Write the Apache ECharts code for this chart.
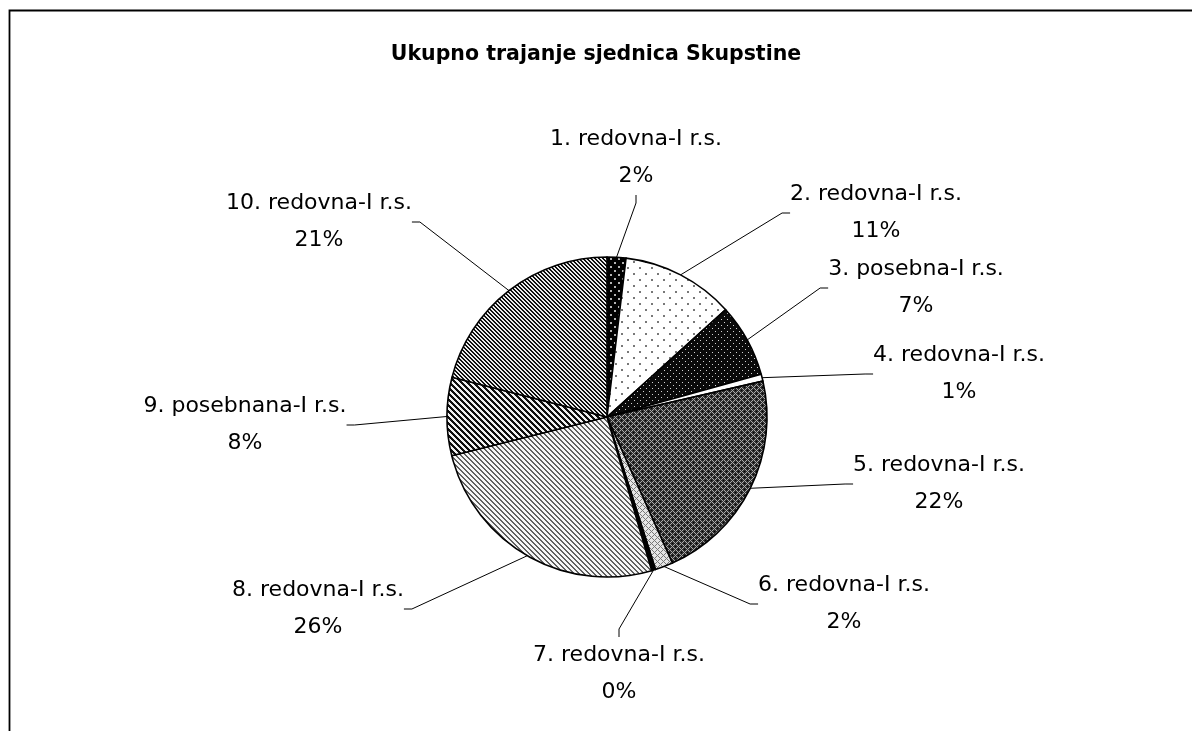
<!DOCTYPE html>
<html>
<head>
<meta charset="utf-8">
<script src="https://cdn.jsdelivr.net/npm/echarts@6/dist/echarts.min.js"></script>
<style>
html,body{margin:0;padding:0;background:#fff;}
#chart{width:1192px;height:731px;}
</style>
</head>
<body>
<div id="chart"></div>
<script>
// ---- data ----
var categories = ['1. redovna-I r.s.', '2. redovna-I r.s.', '3. posebna-I r.s.', '4. redovna-I r.s.', '5. redovna-I r.s.',
  '6. redovna-I r.s.', '7. redovna-I r.s.', '8. redovna-I r.s.', '9. posebnana-I r.s.', '10. redovna-I r.s.'];
var values = [1.9, 11.4, 7.4, 0.7, 21.9, 1.8, 0.4, 25.6, 7.9, 21.0];
var titleText = 'Ukupno trajanje sjednica Skupstine';

// ---- label placement (layout, not data) ----
var labelPos = [[636, 158], [876, 213], [916, 288], [959, 374], [939, 484],
  [844, 604], [619, 674], [318, 609], [245, 425], [319, 222]];

var FONT = '"DejaVu Sans", sans-serif';

function makePattern(size, fn) {
  var c = document.createElement('canvas');
  c.width = size; c.height = size;
  var ctx = c.getContext('2d');
  var img = ctx.createImageData(size, size);
  for (var y = 0; y < size; y++) {
    for (var x = 0; x < size; x++) {
      var v = fn(x, y);
      var i = (y * size + x) * 4;
      img.data[i] = v; img.data[i + 1] = v; img.data[i + 2] = v; img.data[i + 3] = 255;
    }
  }
  ctx.putImageData(img, 0, 0);
  return { image: c, repeat: 'repeat' };
}

function inDot(x, y, cx, cy) { return (x === cx || x === cx + 1) && (y === cy || y === cy + 1); }

var patterns = [
  // 1: black with sparse white dots
  makePattern(8, function (x, y) { return (inDot(x, y, 2, 2) || inDot(x, y, 6, 6)) ? 180 : 0; }),
  // 2: white with sparse dots
  makePattern(12, function (x, y) { return (inDot(x, y, 3, 3) || inDot(x, y, 9, 9)) ? 120 : 255; }),
  // 3: black with denser white dots
  makePattern(6, function (x, y) { return ((x === 1 && y === 1) || (x === 4 && y === 4)) ? 210 : 10; }),
  // 4: white
  makePattern(8, function () { return 255; }),
  // 5: dark crosshatch
  makePattern(6, function (x, y) {
    var a = (x + y) % 6, b = (x - y + 6) % 6;
    if (a === 0 || b === 0) return 170;
    if (a === 3 && b === 3) return 0;
    return 45;
  }),
  // 6: light crosshatch
  makePattern(6, function (x, y) {
    var a = (x + y) % 6, b = (x - y + 6) % 6;
    if (a === 0 || b === 0) return 120;
    return 230;
  }),
  // 7: black
  makePattern(4, function () { return 0; }),
  // 8: light diagonal stripes
  makePattern(5, function (x, y) { var m = (x - y + 10) % 5; return m < 2 ? 95 : 245; }),
  // 9: wide dark diagonal stripes
  makePattern(6, function (x, y) { var m = (x - y + 12) % 6; return m < 3 ? 15 : 240; }),
  // 10: dark diagonal stripes
  makePattern(4, function (x, y) { var m = (x - y + 8) % 4; return m < 2 ? 15 : 235; })
];

var total = values.reduce(function (s, v) { return s + v; }, 0);

var data = categories.map(function (name, i) {
  return { name: name, value: values[i], itemStyle: { color: patterns[i] } };
});

var chart = echarts.init(document.getElementById('chart'), null, { renderer: 'canvas' });
chart.setOption({
  backgroundColor: '#fff',
  animation: false,
  title: {
    text: titleText,
    left: 'center',
    top: 39,
    textStyle: { fontFamily: FONT, fontSize: 20.5, fontWeight: 'bold', color: '#000' }
  },
  graphic: [{
    type: 'rect',
    shape: { x: 9.5, y: 10.5, width: 1400, height: 1000 },
    style: { fill: null, stroke: '#000', lineWidth: 1.8 },
    silent: true
  }],
  series: [{
    type: 'pie',
    center: [607, 417],
    radius: 160,
    startAngle: 90,
    clockwise: true,
    avoidLabelOverlap: false,
    data: data,
    itemStyle: { borderColor: '#000', borderWidth: 1.6 },
    label: {
      show: true,
      position: 'outside',
      color: '#000',
      fontFamily: FONT,
      fontSize: 22,
      lineHeight: 37,
      align: 'center',
      formatter: function (p) {
        return p.name + '\n' + Math.round(values[p.dataIndex] / total * 100) + '%';
      }
    },
    labelLine: {
      show: true,
      length: 10,
      length2: 8,
      lineStyle: { color: '#000', width: 1 }
    },
    labelLayout: function (p) {
      var pos = labelPos[p.dataIndex];
      return { x: pos[0], y: pos[1], align: 'center', verticalAlign: 'middle' };
    },
    emphasis: { disabled: true }
  }]
});
</script>
</body>
</html>
